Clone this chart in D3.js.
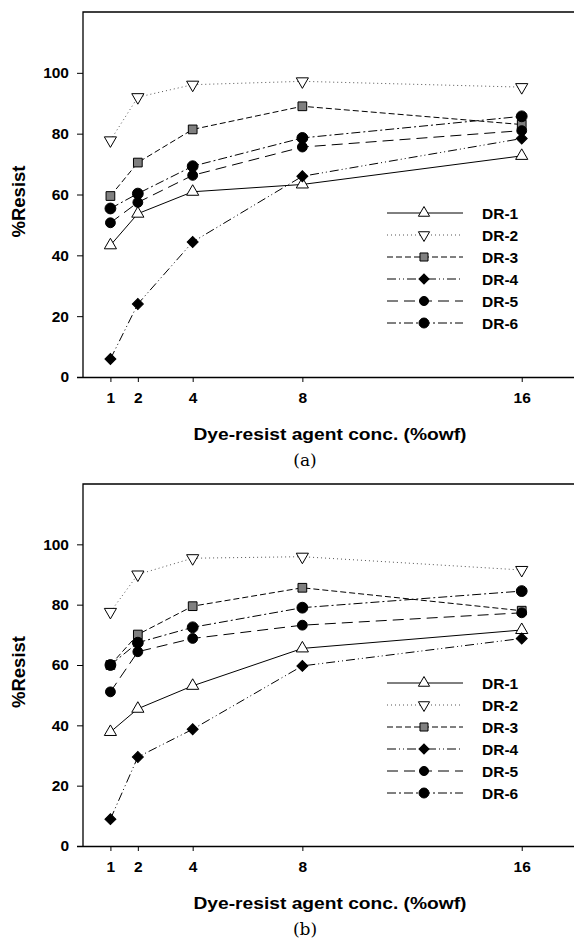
<!DOCTYPE html>
<html>
<head>
<meta charset="utf-8">
<script src="https://cdn.jsdelivr.net/npm/d3@7"></script>
<style>
  body { margin: 0; background: #fff; }
  svg { display: block; }
  text { font-family: "Liberation Sans", Arial, sans-serif; font-weight: bold; fill: #000; }
</style>
</head>
<body>
<svg id="chart" width="574" height="947"></svg>
<script>
// concentrations (%owf)
const concs = [1, 2, 4, 8, 16];
const xTicks = [1, 2, 4, 8, 16];
const yTicks = [0, 20, 40, 60, 80, 100];
const seriesNames = ["DR-1", "DR-2", "DR-3", "DR-4", "DR-5", "DR-6"];

// panel (a)
const dr1A = [43.3, 53.7, 60.9, 63.3, 72.7];
const dr2A = [77.8, 92.0, 96.1, 97.2, 95.3];
const dr3A = [59.5, 70.5, 81.4, 89.0, 83.0];
const dr4A = [5.9, 24.0, 44.4, 66.0, 78.4];
const dr5A = [50.7, 57.4, 66.3, 75.6, 81.0];
const dr6A = [55.4, 60.3, 69.3, 78.6, 85.7];

// panel (b)
const dr1B = [37.8, 45.5, 53.1, 65.5, 71.6];
const dr2B = [77.6, 90.0, 95.4, 95.9, 91.5];
const dr3B = [60.0, 70.1, 79.5, 85.6, 78.0];
const dr4B = [8.9, 29.5, 38.7, 59.7, 68.8];
const dr5B = [51.1, 64.4, 68.8, 73.2, 77.3];
const dr6B = [60.0, 67.4, 72.5, 79.0, 84.5];

// line / marker look per series
const styles = [
  { dash: null, stroke: "#000", sym: "up", fill: "#fff" },
  { dash: "1,3", stroke: "#555", sym: "down", fill: "#fff" },
  { dash: "6,3", stroke: "#000", sym: "square", fill: "#808080" },
  { dash: "9,3,1,3,1,3", stroke: "#000", sym: "diamond", fill: "#000" },
  { dash: "11,6", stroke: "#000", sym: "circle5", fill: "#000" },
  { dash: "9,3,2,3", stroke: "#000", sym: "circle6", fill: "#000" }
];

const svg = d3.select("#chart");

function drawMarker(g, x, y, st, sc) {
  let path, rot = 0;
  if (st.sym === "up") path = d3.symbol(d3.symbolTriangle, 64 * sc)();
  else if (st.sym === "down") { path = d3.symbol(d3.symbolTriangle, 64 * sc)(); rot = 180; }
  else if (st.sym === "square") path = d3.symbol(d3.symbolSquare, 76 * sc)();
  else if (st.sym === "diamond") { path = d3.symbol(d3.symbolSquare, 60 * sc)(); rot = 45; }
  else if (st.sym === "circle5") path = d3.symbol(d3.symbolCircle, 76 * sc)();
  else path = d3.symbol(d3.symbolCircle, 92 * sc)();
  g.append("path")
    .attr("d", path)
    .attr("transform", `translate(${x},${y}) rotate(${rot})`)
    .attr("fill", st.fill)
    .attr("stroke", "#000")
    .attr("stroke-width", 1);
}

function drawPanel(top, bottom, data, tag, legendTop) {
  const left = 83;
  const x = d3.scaleLinear().domain([0, 18]).range([left, left + 18 * 27.42]);
  const y = d3.scaleLinear().domain([0, 120]).range([bottom, top]);
  const g = svg.append("g");

  // frame: left + top
  g.append("path")
    .attr("d", `M${x(18)},${top}H${left}V${bottom}`)
    .attr("fill", "none").attr("stroke", "#000").attr("stroke-width", 1.3);

  // x axis
  const xAxis = g.append("g").attr("transform", `translate(0,${bottom})`)
    .call(d3.axisBottom(x).tickValues(xTicks).tickSize(5).tickSizeOuter(0).tickPadding(10));
  xAxis.select(".domain").attr("d", `M${left - 6},0.5H${x(18)}`).attr("stroke-width", 1.3);
  xAxis.selectAll("text").attr("font-size", 15.5).attr("font-family", null).attr("dy", "0.72em");

  // y axis
  const yAxis = g.append("g").attr("transform", `translate(${left},0)`)
    .call(d3.axisLeft(y).tickValues(yTicks).tickSize(6).tickSizeOuter(0).tickPadding(8));
  yAxis.select(".domain").remove();
  yAxis.selectAll("text").attr("font-size", 15.5).attr("font-family", null);

  // series
  const line = d3.line().x((d, i) => x(concs[i])).y(d => y(d));
  data.forEach((vals, k) => {
    const st = styles[k];
    g.append("path")
      .attr("d", line(vals))
      .attr("fill", "none")
      .attr("stroke", st.stroke)
      .attr("stroke-width", 1)
      .attr("stroke-dasharray", st.dash);
  });
  data.forEach((vals, k) => {
    vals.forEach((v, i) => drawMarker(g, x(concs[i]), y(v), styles[k], 1));
  });

  // legend
  seriesNames.forEach((name, k) => {
    const st = styles[k];
    const ly = legendTop + k * 22;
    g.append("line")
      .attr("x1", 387).attr("x2", 463).attr("y1", ly).attr("y2", ly)
      .attr("stroke", st.stroke).attr("stroke-width", 1)
      .attr("stroke-dasharray", st.dash);
    drawMarker(g, 424, ly, st, 0.85);
    g.append("text")
      .attr("x", 482).attr("y", ly + 6)
      .attr("font-size", 15.5)
      .text(name);
  });

  // axis titles
  g.append("text")
    .attr("x", 330).attr("y", bottom + 63)
    .attr("text-anchor", "middle")
    .attr("font-size", 17)
    .attr("textLength", 273).attr("lengthAdjust", "spacingAndGlyphs")
    .text("Dye-resist agent conc. (%owf)");

  const mid = (top + bottom) / 2 + 7;
  g.append("text")
    .attr("transform", `translate(25,${mid}) rotate(-90)`)
    .attr("text-anchor", "middle")
    .attr("font-size", 18.5)
    .text("%Resist");

  g.append("text")
    .attr("x", 305).attr("y", bottom + 89)
    .attr("text-anchor", "middle")
    .attr("font-size", 17)
    .style("font-family", "'DejaVu Serif', 'Liberation Serif', serif")
    .style("font-weight", "normal")
    .text(tag);
}

drawPanel(12, 377, [dr1A, dr2A, dr3A, dr4A, dr5A, dr6A], "(a)", 213);
drawPanel(484, 846, [dr1B, dr2B, dr3B, dr4B, dr5B, dr6B], "(b)", 683);
</script>
</body>
</html>
